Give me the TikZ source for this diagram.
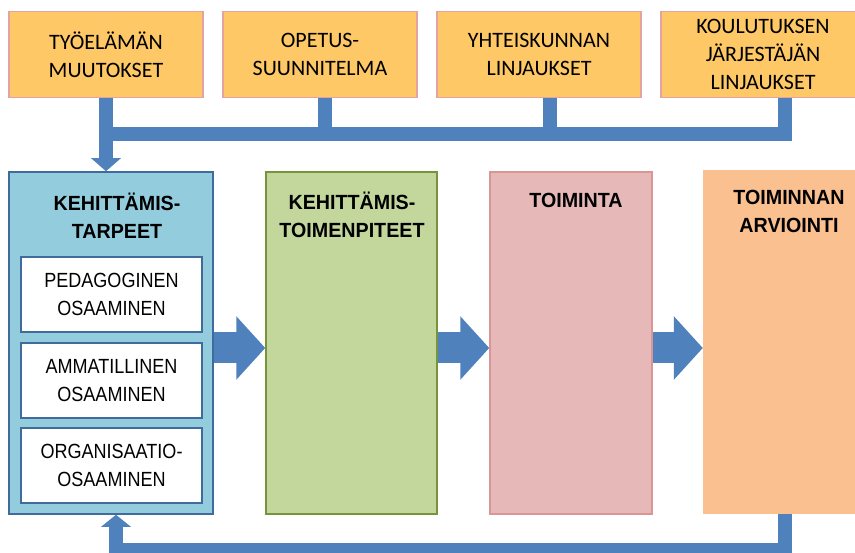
\documentclass[tikz,border=0pt]{standalone}
\usepackage{fontspec}
\usetikzlibrary{arrows.meta}
\newfontfamily\calfont{Carlito}
\newfontfamily\narrowfont[FakeStretch=0.88]{Liberation Sans}
\newfontfamily\titlefont[FakeStretch=0.96]{Liberation Sans}
\definecolor{topfill}{HTML}{FDC865}
\definecolor{topborder}{HTML}{E3A3A2}
\definecolor{bluefill}{HTML}{93CDDD}
\definecolor{bluedark}{HTML}{3F6C9C}
\definecolor{greenfill}{HTML}{C3D69B}
\definecolor{greenborder}{HTML}{77933C}
\definecolor{pinkfill}{HTML}{E6B9B8}
\definecolor{pinkborder}{HTML}{D99694}
\definecolor{orangefill}{HTML}{FAC090}
\definecolor{arrowblue}{HTML}{4F81BD}
\begin{document}
\begin{tikzpicture}[x=1pt,y=-1pt,
  topbox/.style={draw=topborder, line width=1.3pt, fill=topfill, minimum width=194pt,
    minimum height=86pt, inner sep=0pt, align=center,
    font=\calfont\fontsize{22}{28}\selectfont},
  column/.style={minimum width=#1, minimum height=342pt, inner sep=0pt, line width=1.5pt},
  coltitle/.style={font=\titlefont\bfseries\fontsize{20.5}{28}\selectfont, align=center, inner sep=0pt},
  subbox/.style={draw=bluedark, fill=white, line width=1.5pt, minimum width=181pt,
    minimum height=75pt, inner sep=0pt, align=center,
    font=\narrowfont\fontsize{20.5}{28}\selectfont},
  bar/.style={draw=arrowblue, line width=14pt, line join=miter},
  bigarrow/.style={draw=arrowblue, line width=31pt,
    -{Triangle[width=62pt,length=29pt]}},
  smallarrow/.style={draw=arrowblue, line width=13.5pt, line join=miter,
    -{Triangle[width=29pt,length=13pt]}}
]
\useasboundingbox (0,0) rectangle (855,553);
% top boxes
\node[topbox] (t1) at (106,54.5) {TYÖELÄMÄN\\MUUTOKSET};
\node[topbox] (t2) at (320,54.5) {OPETUS-\\SUUNNITELMA};
\node[topbox, minimum width=204pt] (t3) at (539,54.5) {YHTEISKUNNAN\\LINJAUKSET};
\node[topbox, minimum width=204pt] (t4) at (763,54.5) {KOULUTUKSEN\\JÄRJESTÄJÄN\\LINJAUKSET};
% columns
\node[column=204pt, draw=bluedark, fill=bluefill] (need) at (111,343) {};
\node[column=171pt, draw=greenborder, fill=greenfill] (meas) at (351.5,343) {};
\node[column=162pt, draw=pinkborder, fill=pinkfill] (act) at (571,343) {};
\node[minimum width=172pt, minimum height=344pt, inner sep=0pt, fill=orangefill] (eval) at (789,342) {};
% titles
\node[coltitle] (needt) at (117,216) {KEHITTÄMIS-\\TARPEET};
\node[coltitle] (meast) at (352,215) {KEHITTÄMIS-\\TOIMENPITEET};
\node[coltitle] (actt) at (576,200) {TOIMINTA};
\node[coltitle] (evalt) at (789,211) {TOIMINNAN\\ARVIOINTI};
% sub boxes
\node[subbox] (s1) at (111.5,294.5) {PEDAGOGINEN\\OSAAMINEN};
\node[subbox] (s2) at (111.5,380.5) {AMMATILLINEN\\OSAAMINEN};
\node[subbox] (s3) at (111.5,465.5) {ORGANISAATIO-\\OSAAMINEN};
% top connectors
\coordinate (hb) at (0,134);
\draw[bar] ([xshift=21.5pt]t4.south) |- (t1.south |- hb);
\draw[bar] ([xshift=5pt]t2.south) -- ([xshift=5pt]t2.south |- hb);
\draw[bar] ([xshift=10.5pt]t3.south) -- ([xshift=10.5pt]t3.south |- hb);
\draw[smallarrow] (t1.south) -- (t1.south |- need.north);
% flow arrows
\coordinate (ay) at (0,348);
\draw[bigarrow] (need.east |- ay) -- (meas.west |- ay);
\draw[bigarrow] (meas.east |- ay) -- (act.west |- ay);
\draw[bigarrow] (act.east |- ay) -- (eval.west |- ay);
% feedback
\coordinate (fb) at (116,550);
\draw[smallarrow, line width=14pt, -{Triangle[width=29pt,length=12pt]}]
  ([xshift=-4.5pt]eval.south) |- (fb) -- (fb |- need.south);
\end{tikzpicture}
\end{document}
